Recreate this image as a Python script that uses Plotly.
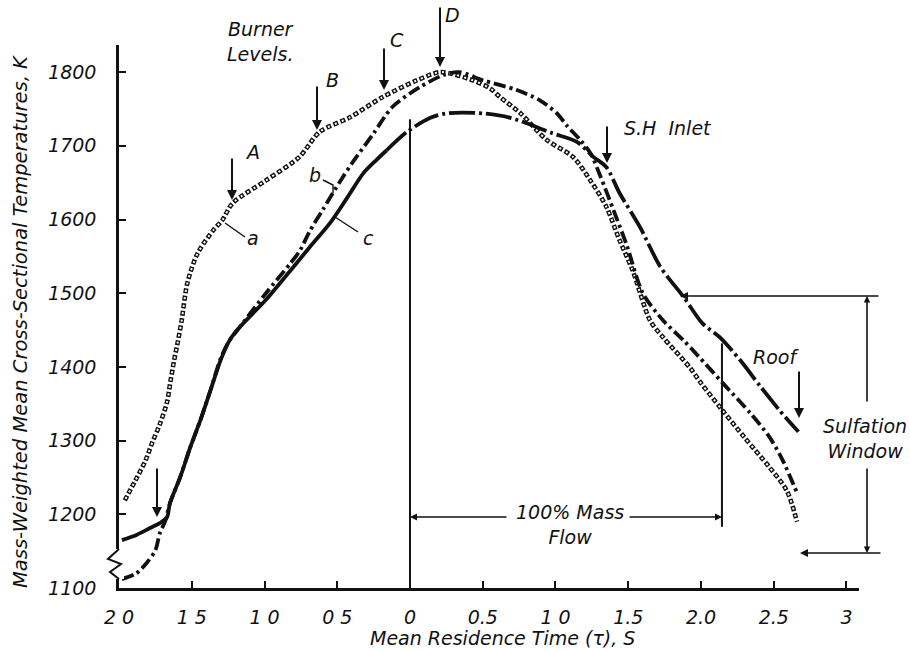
import plotly.graph_objects as go

# ---------------- data ----------------
tick_vals = [-2.0, -1.5, -1.0, -0.5, 0.0, 0.5, 1.0, 1.5, 2.0, 2.5, 3.0]
tick_text = ["2 0", "1 5", "1 0", "0 5", "0", "0.5", "1 0", "1.5", "2.0", "2.5", "3"]
y_ticks = [1100, 1200, 1300, 1400, 1500, 1600, 1700, 1800]

# curve a (open circles)
a_x = [-1.96, -1.89, -1.82, -1.77, -1.72, -1.67, -1.645, -1.62, -1.595, -1.57, -1.53, -1.46,
       -1.35, -1.29, -1.22, -0.99, -0.76, -0.62, -0.41, -0.19, 0.05, 0.21, 0.43, 0.55, 0.62,
       0.76, 0.94, 1.12, 1.24, 1.35, 1.44, 1.53, 1.65, 1.74, 1.92, 2.00, 2.14, 2.30, 2.47,
       2.59, 2.66]
a_y = [1219, 1245, 1272, 1298, 1322, 1352, 1382, 1410, 1435, 1462, 1514, 1554,
       1586, 1599, 1622, 1653, 1685, 1719, 1739, 1766, 1789, 1800, 1789, 1778, 1766,
       1744, 1708, 1685, 1653, 1617, 1572, 1531, 1463, 1440, 1400, 1378, 1343, 1304, 1264,
       1232, 1190]
a_stray_x = [-2.04]
a_stray_y = [1202]

# curve b (dash-dot)
b_x = [-1.98, -1.88, -1.81, -1.75, -1.72, -1.68, -1.65, -1.58, -1.51, -1.44, -1.37, -1.30,
       -1.24, -1.17, -0.99, -0.82, -0.756, -0.687, -0.60, -0.53, -0.46, -0.40, -0.25, -0.12,
       0.07, 0.23, 0.34, 0.50, 0.73, 0.89, 1.01, 1.08, 1.17, 1.24, 1.31, 1.40, 1.49, 1.60,
       1.74, 1.88, 1.98, 2.15, 2.34, 2.47, 2.56, 2.66]
b_y = [1112, 1120, 1134, 1151, 1174, 1192, 1215, 1250, 1291, 1328, 1369, 1412,
       1436, 1454, 1500, 1541, 1558, 1585, 1613, 1636, 1658, 1676, 1717, 1753,
       1780, 1796, 1800, 1789, 1776, 1762, 1744, 1727, 1708, 1690, 1658, 1612, 1565, 1500,
       1463, 1436, 1415, 1378, 1337, 1305, 1274, 1229]

# curve c (solid, then long dash-dot)
c_x = [-1.98, -1.88, -1.79, -1.72, -1.67, -1.65, -1.58, -1.51, -1.44, -1.37, -1.30, -1.24,
       -1.17, -0.99, -0.80, -0.687, -0.55, -0.43, -0.32, -0.23, -0.16, -0.02, 0.14, 0.25,
       0.50, 0.69, 0.98, 1.15, 1.26, 1.35, 1.44, 1.58, 1.72, 1.88, 2.01, 2.13, 2.27, 2.41,
       2.54, 2.67]
c_y = [1165, 1172, 1181, 1188, 1196, 1215, 1250, 1291, 1328, 1369, 1410, 1436,
       1454, 1491, 1536, 1563, 1595, 1630, 1663, 1681, 1694, 1719, 1738, 1744,
       1744, 1738, 1717, 1705, 1685, 1671, 1636, 1590, 1536, 1495, 1459, 1440, 1409, 1373,
       1341, 1312]
c_split = 20  # index where the solid part turns into dash-dot

# ---------------- layout geometry ----------------
W, H = 910, 652
ML, MR, MT, MB = 119, 51, 45, 64
X0, X1 = -2.0, 3.086
Y0, Y1 = 1100.0, 1836.8
PW, PH = W - ML - MR, H - MT - MB


def px(xp):
    return (xp - ML) / PW


def py(yp):
    return (H - MB - yp) / PH


FONT = "DejaVu Sans"
INK = "#111111"
FS = 19

fig = go.Figure()

# curve a: ring-like dots (black dashes with white centres)
fig.add_trace(go.Scatter(x=a_x, y=a_y, mode="lines", line=dict(color=INK, width=4.6, dash="5px,2.5px",
                                                              shape="spline", smoothing=0.8),
                         hoverinfo="skip", showlegend=False))
fig.add_trace(go.Scatter(x=a_x, y=a_y, mode="lines", line=dict(color="white", width=2.0, dash="0px,1.5px,2px,4px",
                                                              shape="spline", smoothing=0.8),
                         hoverinfo="skip", showlegend=False))
fig.add_trace(go.Scatter(x=a_stray_x, y=a_stray_y, mode="markers", cliponaxis=False,
                         marker=dict(symbol="circle-open", size=6, color=INK, line=dict(width=1.5, color=INK)),
                         hoverinfo="skip", showlegend=False))

# curve b
fig.add_trace(go.Scatter(x=b_x, y=b_y, mode="lines",
                         line=dict(color=INK, width=3.8, dash="12px,4px,3px,4px", shape="spline", smoothing=0.8),
                         hoverinfo="skip", showlegend=False))

# curve c
fig.add_trace(go.Scatter(x=c_x[:c_split + 1], y=c_y[:c_split + 1], mode="lines",
                         line=dict(color=INK, width=3.8, shape="spline", smoothing=0.8),
                         hoverinfo="skip", showlegend=False))
fig.add_trace(go.Scatter(x=c_x[c_split:], y=c_y[c_split:], mode="lines",
                         line=dict(color=INK, width=3.8, dash="26px,4px,3px,4px", shape="spline", smoothing=0.8),
                         hoverinfo="skip", showlegend=False))

annotations = []


def text(xp, yp, s, size=FS, angle=0):
    annotations.append(dict(xref="paper", yref="paper", x=px(xp), y=py(yp), text=s, showarrow=False,
                            xanchor="center", yanchor="middle", textangle=angle,
                            font=dict(family=FONT, size=size, color=INK, style="italic")))


def arrow(hx, hy, tx, ty, width=2.0, size=1.0, head=2):
    annotations.append(dict(xref="paper", yref="paper", x=px(hx), y=py(hy), text="",
                            showarrow=True, axref="pixel", ayref="pixel", ax=tx - hx, ay=ty - hy,
                            arrowhead=head, arrowsize=size, arrowwidth=width, arrowcolor=INK,
                            standoff=0, startstandoff=0))


# labels
text(260, 41, "Burner<br>Levels.")
text(252, 152, "A")
text(332, 80, "B")
text(397, 40, "C")
text(452, 15, "D")
text(253, 238, "a")
text(315, 175, "b")
text(368, 238, "c")
text(668, 128, "S.H  Inlet")
text(776, 357, "Roof")
text(865, 438, "Sulfation<br>Window")
text(570, 524, "100% Mass<br>Flow")
text(502, 638, "Mean Residence Time (τ), S")
text(20, 321, "Mass-Weighted Mean Cross-Sectional Temperatures, K", size=19.5, angle=-90)

# arrows
arrow(232, 200, 232, 157)
arrow(317, 130, 317, 85)
arrow(384, 90, 384, 47)
arrow(440, 67, 440, 6)
arrow(607, 163, 607, 125)
arrow(799, 418, 799, 370)
arrow(157, 517, 157, 467)
arrow(680, 296, 880, 296, width=1.6)
arrow(800, 553, 882, 553, width=1.6)
arrow(867, 296, 867, 403, width=1.6, size=0.8)
arrow(867, 553, 867, 467, width=1.6, size=0.8)
arrow(410, 517, 508, 517, width=1.4)
arrow(722, 517, 628, 517, width=1.4)

shapes = []
# reference lines at 0 and at 100% mass flow
shapes.append(dict(type="line", xref="x", yref="y", x0=0, x1=0, y0=1100, y1=1736,
                   line=dict(color=INK, width=2)))
shapes.append(dict(type="line", xref="x", yref="y", x0=2.144, x1=2.144, y0=1183, y1=1432,
                   line=dict(color=INK, width=2)))


def ppath(pts):
    return "M " + " L ".join(f"{px(a):.5f},{py(b):.5f}" for a, b in pts)


# pointer lines for a, b, c
for pts in ([(225, 223), (245, 237)], [(323, 180), (333, 185), (333, 193)], [(335, 217), (358, 232)]):
    shapes.append(dict(type="path", xref="paper", yref="paper", path=ppath(pts),
                       line=dict(color=INK, width=1.4)))

# axis break on the y axis
shapes.append(dict(type="rect", xref="paper", yref="paper", x0=px(115), x1=px(124), y0=py(579), y1=py(549),
                   fillcolor="white", line=dict(width=0), layer="above"))
shapes.append(dict(type="path", xref="paper", yref="paper",
                   path=ppath([(119, 549), (108, 559), (121, 564), (110, 572), (119, 579)]),
                   line=dict(color=INK, width=2)))

fig.update_layout(
    width=W, height=H, margin=dict(l=ML, r=MR, t=MT, b=MB, autoexpand=False),
    paper_bgcolor="white", plot_bgcolor="white", showlegend=False,
    annotations=annotations, shapes=shapes,
    xaxis=dict(range=[X0, X1], tickvals=tick_vals, ticktext=tick_text, showgrid=False, zeroline=False,
               showline=True, linecolor=INK, linewidth=2.5, ticks="inside", ticklen=7, tickwidth=2,
               tickcolor=INK, ticklabelstandoff=10,
               tickfont=dict(family=FONT, size=FS, color=INK, style="italic")),
    yaxis=dict(range=[Y0, Y1], tickvals=y_ticks, showgrid=False, zeroline=False,
               showline=True, linecolor=INK, linewidth=2.5, ticks="inside", ticklen=7, tickwidth=2,
               tickcolor=INK, ticklabelstandoff=16,
               tickfont=dict(family=FONT, size=FS, color=INK, style="italic")),
)

fig.write_html("out.html")
